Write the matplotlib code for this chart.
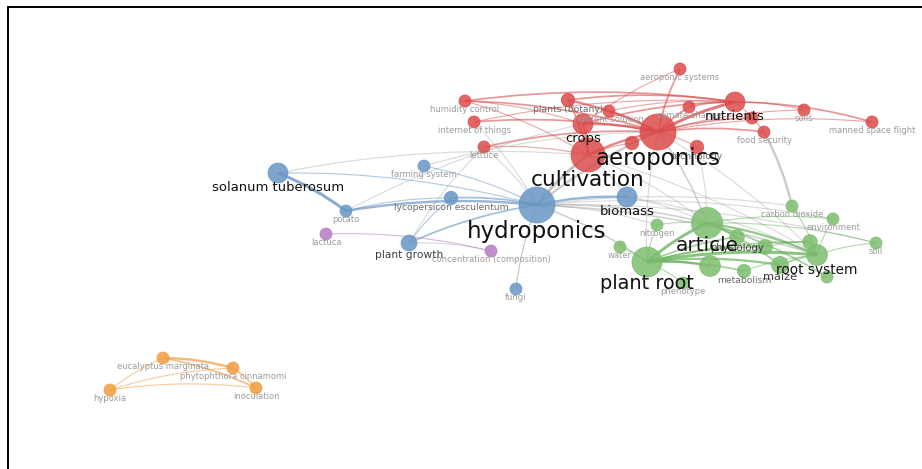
import numpy as np
import matplotlib.pyplot as plt
from matplotlib.path import Path
from matplotlib.patches import PathPatch, Circle

# ---- keyword co-occurrence map ------------------------------------------
names = [
    # cluster 1
    "aeroponics", "cultivation", "crops", "nutrients", "plants (botany)",
    "humidity control", "internet of things", "lettuce", "nutrient solution",
    "climate change", "aeroponic systems", "soils", "manned space flight",
    "food security", "sustainability", "agriculture", "technology",
    # cluster 2
    "hydroponics", "biomass", "solanum tuberosum", "potato", "farming system",
    "lycopersicon esculentum", "plant growth", "fungi",
    # cluster 3
    "article", "plant root", "root system", "maize", "metabolism", "physiology",
    "nitrogen", "water", "carbon dioxide", "environment", "soil", "phenotype",
    "plant", "gene expression", "roots", "growth",
    # cluster 4
    "lactuca", "concentration (composition)",
    # cluster 5
    "eucalyptus marginata", "phytophthora cinnamomi", "hypoxia", "inoculation",
]
cluster = [1] * 17 + [2] * 8 + [3] * 16 + [4] * 2 + [5] * 4

map_x = [658, 588, 583, 735, 568, 465, 474, 484, 609, 689, 680, 804, 872, 764, 752, 632, 697,
         537, 627, 278, 346, 424, 451, 409, 516,
         707, 647, 817, 780, 744, 737, 657, 620, 792, 833, 876, 683, 710, 765, 810, 827,
         326, 491,
         163, 233, 110, 256]
map_y = [132, 155, 124, 102, 100, 101, 122, 147, 111, 107, 69, 110, 122, 132, 118, 143, 147,
         205, 197, 173, 211, 166, 198, 243, 289,
         223, 262, 255, 265, 271, 237, 225, 247, 206, 219, 243, 283, 266, 247, 242, 277,
         234, 251,
         358, 368, 390, 388]
occurrences = [36, 32, 11, 11, 5, 4, 4, 4, 4, 4, 4, 4, 4, 4, 4, 5, 5,
               36, 11, 11, 4, 4, 5, 7, 4,
               27, 25, 12, 8, 5, 6, 4, 4, 4, 4, 4, 4, 12, 6, 6, 4,
               4, 4,
               4, 4, 4, 4]

# labels VOSviewer leaves out because they collide with others
unlabeled = {"sustainability", "agriculture", "plant", "gene expression", "roots", "growth"}

links = [
    ("humidity control", "aeroponics", 2), ("humidity control", "nutrients", 2),
    ("humidity control", "crops", 1), ("humidity control", "cultivation", 1),
    ("plants (botany)", "aeroponics", 3), ("plants (botany)", "nutrients", 2),
    ("plants (botany)", "cultivation", 2), ("plants (botany)", "crops", 1),
    ("internet of things", "aeroponics", 2), ("internet of things", "hydroponics", 1),
    ("internet of things", "nutrients", 1),
    ("lettuce", "aeroponics", 2), ("lettuce", "cultivation", 1),
    ("lettuce", "hydroponics", 1), ("lettuce", "plant growth", 1),
    ("aeroponic systems", "aeroponics", 2), ("aeroponic systems", "crops", 1),
    ("nutrients", "aeroponics", 4), ("nutrients", "soils", 1),
    ("nutrients", "manned space flight", 2), ("nutrients", "crops", 2),
    ("soils", "aeroponics", 1), ("manned space flight", "aeroponics", 1),
    ("food security", "aeroponics", 2), ("food security", "carbon dioxide", 3),
    ("food security", "nutrients", 1),
    ("climate change", "aeroponics", 2), ("climate change", "nutrients", 2),
    ("crops", "aeroponics", 3), ("crops", "cultivation", 3),
    ("cultivation", "aeroponics", 3), ("cultivation", "hydroponics", 4),
    ("aeroponics", "hydroponics", 3), ("aeroponics", "article", 2),
    ("aeroponics", "plant root", 1), ("aeroponics", "root system", 1),
    ("nutrient solution", "aeroponics", 2), ("nutrient solution", "nutrients", 1),
    ("sustainability", "aeroponics", 2), ("agriculture", "aeroponics", 2),
    ("agriculture", "cultivation", 1), ("technology", "aeroponics", 1),
    ("technology", "article", 1),
    ("solanum tuberosum", "potato", 4), ("solanum tuberosum", "hydroponics", 1),
    ("solanum tuberosum", "cultivation", 1),
    ("potato", "hydroponics", 3), ("potato", "lycopersicon esculentum", 1),
    ("potato", "crops", 1),
    ("farming system", "hydroponics", 1), ("farming system", "aeroponics", 1),
    ("lycopersicon esculentum", "hydroponics", 2), ("lycopersicon esculentum", "plant growth", 1),
    ("plant growth", "hydroponics", 2), ("plant growth", "concentration (composition)", 1),
    ("lactuca", "concentration (composition)", 1),
    ("fungi", "hydroponics", 1),
    ("biomass", "hydroponics", 3), ("biomass", "article", 1),
    ("biomass", "root system", 1), ("biomass", "cultivation", 1),
    ("hydroponics", "article", 2), ("hydroponics", "plant root", 2),
    ("hydroponics", "root system", 2), ("hydroponics", "carbon dioxide", 1),
    ("hydroponics", "environment", 1), ("hydroponics", "soil", 1),
    ("hydroponics", "nitrogen", 1),
    ("cultivation", "article", 1), ("cultivation", "root system", 1),
    ("plant root", "article", 4), ("plant root", "root system", 4),
    ("plant root", "maize", 3), ("plant root", "physiology", 2),
    ("plant root", "metabolism", 2), ("plant root", "plant", 3),
    ("plant root", "roots", 2), ("plant root", "gene expression", 2),
    ("article", "root system", 3), ("article", "soil", 1),
    ("article", "environment", 1), ("article", "maize", 2),
    ("article", "physiology", 2), ("article", "nitrogen", 1), ("article", "growth", 2),
    ("carbon dioxide", "root system", 1), ("soil", "root system", 1),
    ("environment", "root system", 1), ("water", "plant root", 1),
    ("phenotype", "plant root", 1), ("nitrogen", "plant root", 1),
    ("maize", "root system", 2), ("metabolism", "root system", 1),
    ("roots", "root system", 2), ("gene expression", "roots", 1),
    ("hypoxia", "eucalyptus marginata", 1), ("hypoxia", "phytophthora cinnamomi", 1),
    ("hypoxia", "inoculation", 1), ("eucalyptus marginata", "phytophthora cinnamomi", 3),
    ("eucalyptus marginata", "inoculation", 2), ("phytophthora cinnamomi", "inoculation", 2),
]

cluster_colors = {1: "#dc4b4b", 2: "#6897c4", 3: "#7dbd70", 4: "#b47cc6", 5: "#ef9d3f"}
edge_colors = {1: "#d84545", 2: "#5c8cbc", 3: "#5fae52", 4: "#a070b0", 5: "#ec9330"}

W, H = 922, 469
fig = plt.figure(figsize=(W / 100, H / 100), dpi=100)
ax = fig.add_axes([0, 0, 1, 1])
ax.set_xlim(0, W)
ax.set_ylim(H, 0)
ax.axis("off")

idx = {n: i for i, n in enumerate(names)}
xs = np.array(map_x, float)
ys = np.array(map_y, float)
radius = 3.0 * np.sqrt(occurrences)


def curved(p0, p1, bend=0.07):
    if p1[0] < p0[0]:
        p0, p1 = p1, p0
    d = p1 - p0
    n = np.array([d[1], -d[0]])
    ctrl = (p0 + p1) / 2 + n * bend
    return Path([p0, ctrl, p1], [Path.MOVETO, Path.CURVE3, Path.CURVE3])


# links
for a, b, s in links:
    i, j = idx[a], idx[b]
    p0 = np.array([xs[i], ys[i]])
    p1 = np.array([xs[j], ys[j]])
    if cluster[i] == cluster[j]:
        col, alpha = edge_colors[cluster[i]], 0.4 + 0.08 * s
    else:
        col, alpha = "#a8a8a8", 0.35 + 0.08 * s
    ax.add_patch(PathPatch(curved(p0, p1), fill=False, edgecolor=col,
                           lw=0.35 + 0.45 * s, alpha=min(alpha, 0.85), zorder=1))

# nodes
for i in np.argsort(occurrences):
    c = cluster_colors[cluster[i]]
    ax.add_patch(Circle((xs[i], ys[i]), radius[i], facecolor=c, edgecolor=c,
                        lw=0.6, alpha=0.85, zorder=2))

# labels, bigger ones on top
for i in np.argsort(occurrences, kind="stable"):
    if names[i] in unlabeled:
        continue
    w = occurrences[i]
    fs = 0.75 + 2.625 * np.sqrt(w)
    if w >= 9:
        col = "#111111"
    elif w >= 6:
        col = "#3c3c3c"
    elif w == 5:
        col = "#6a6a6a"
    else:
        col = "#9c9c9c"
    off = radius[i] + 0.35 * fs / 0.72
    ax.text(xs[i], ys[i] + off, names[i], fontsize=fs, color=col,
            ha="center", va="center", family="DejaVu Sans", zorder=3)

# frame
ax.plot([7, W], [7.5, 7.5], color="black", lw=1.4, solid_capstyle="butt", zorder=4)
ax.plot([7.5, 7.5], [7, H], color="black", lw=1.4, solid_capstyle="butt", zorder=4)

fig.savefig("out.png", dpi=100, facecolor="white")
